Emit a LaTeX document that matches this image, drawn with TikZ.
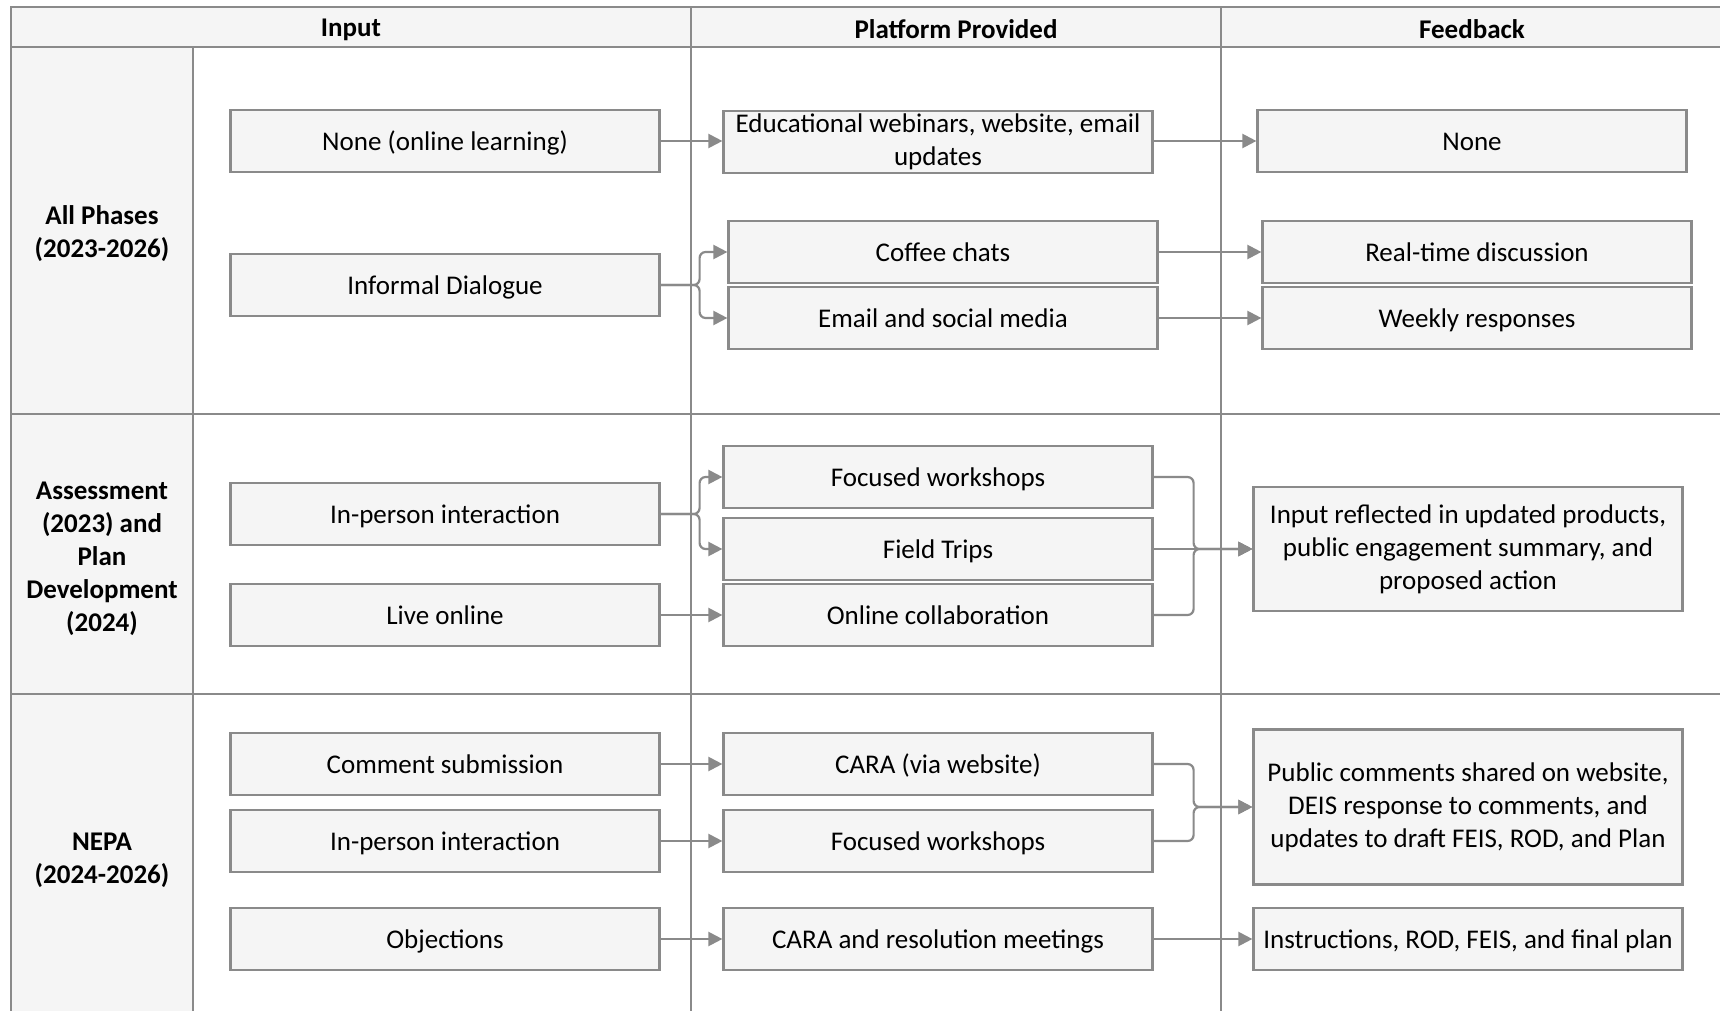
\documentclass[tikz,border=0pt]{standalone}
\usepackage{fontspec}
\setmainfont{Carlito}
\usepackage{tikz}
\usetikzlibrary{arrows.meta}
\definecolor{rulegray}{HTML}{8A8A8A}
\definecolor{cellgray}{HTML}{F5F5F5}

\begin{document}
\begin{tikzpicture}[x=0.5pt,y=-0.5pt,>={Triangle[length=7pt,width=7pt]},
  box/.style={draw=rulegray,fill=cellgray,line width=1.1pt,minimum width=214.5pt,minimum height=31.25pt,align=center,inner sep=1pt,text height=11.5pt,text depth=2.2pt,font=\fontsize{13.5}{16.5}\selectfont},
  multi/.style={text height=,text depth=},
  phase/.style={align=center,font=\fontsize{13.5}{16.5}\selectfont\bfseries},
  head/.style={font=\fontsize{13.5}{16.5}\selectfont\bfseries},
  link/.style={->,draw=rulegray,line width=1.1pt,rounded corners=3pt}]
\useasboundingbox (0,0) rectangle (1720,1011);
% table
\fill[cellgray] (11,7) rectangle (1724,47);
\fill[cellgray] (11,47) rectangle (193,1016);
\draw[rulegray,line width=1.1pt] (1724,7) -- (11,7) -- (11,1016)
  (11,47) -- (1724,47) (11,414) -- (1724,414) (11,694) -- (1724,694)
  (193,47) -- (193,1016) (691,7) -- (691,1016) (1221,7) -- (1221,1016);
\node[head] (hin) at (351,29.5) {Input};
\node[head] (hpf) at (956,29.5) {Platform Provided};
\node[head] (hfb) at (1472,29.5) {Feedback};
\node[phase] (ph1) at (102,234) {All Phases\\(2023-2026)};
\node[phase] (ph2) at (102,559) {Assessment\\(2023) and\\Plan\\Development\\(2024)};
\node[phase] (ph3) at (102,860) {NEPA\\(2024-2026)};
% input
\node[box] (in1) at (445,141) {None (online learning)};
\node[box] (in2) at (445,285) {Informal Dialogue};
\node[box] (in3) at (445,514) {In-person interaction};
\node[box] (in4) at (445,615) {Live online};
\node[box] (in5) at (445,764) {Comment submission};
\node[box] (in6) at (445,841) {In-person interaction};
\node[box] (in7) at (445,939) {Objections};
% platform
\node[box,multi] (pf1) at (938,142) {Educational webinars, website, email\\updates};
\node[box] (pf2) at (943,252) {Coffee chats};
\node[box] (pf3) at (943,318) {Email and social media};
\node[box] (pf4) at (938,477) {Focused workshops};
\node[box] (pf5) at (938,549) {Field Trips};
\node[box] (pf6) at (938,615) {Online collaboration};
\node[box] (pf7) at (938,764) {CARA (via website)};
\node[box] (pf8) at (938,841) {Focused workshops};
\node[box] (pf9) at (938,939) {CARA and resolution meetings};
% feedback
\node[box] (fb1) at (1472,141) {None};
\node[box] (fb2) at (1477,252) {Real-time discussion};
\node[box] (fb3) at (1477,318) {Weekly responses};
\node[box,multi,minimum height=62pt] (fb4) at (1468,549) {Input reflected in updated products,\\public engagement summary, and\\proposed action};
\node[box,multi,minimum height=77.5pt] (fb5) at (1468,807) {Public comments shared on website,\\DEIS response to comments, and\\updates to draft FEIS, ROD, and Plan};
\node[box] (fb6) at (1468,939) {Instructions, ROD, FEIS, and final plan};
% connectors
\draw[link] (in1) -- (in1 -| pf1.west);
\draw[link] (pf1.east |- fb1) -- (fb1);
\draw[link] (in2.east) -- ++(39,0) |- (pf2.west);
\draw[link] (in2.east) -- ++(39,0) |- (pf3.west);
\draw[link] (pf2) -- (fb2);
\draw[link] (pf3) -- (fb3);
\draw[link] (in3.east) -- ++(39,0) |- (pf4.west);
\draw[link] (in3.east) -- ++(39,0) |- (pf5.west);
\draw[link] (in4) -- (pf6);
\draw[link] (pf4.east) -- ++(40,0) |- (fb4.west);
\draw[link] (pf5) -- (fb4);
\draw[link] (pf6.east) -- ++(40,0) |- (fb4.west);
\draw[link] (in5) -- (pf7);
\draw[link] (in6) -- (pf8);
\draw[link] (in7) -- (pf9);
\draw[link] (pf7.east) -- ++(40,0) |- (fb5.west);
\draw[link] (pf8.east) -- ++(40,0) |- (fb5.west);
\draw[link] (pf9) -- (fb6);
\end{tikzpicture}
\end{document}
